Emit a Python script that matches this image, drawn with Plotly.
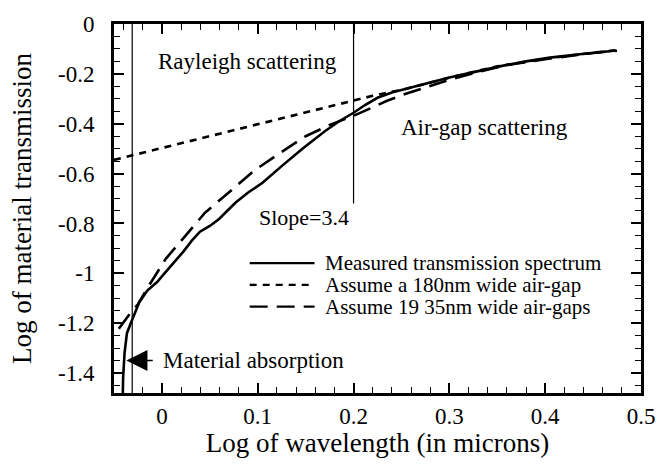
import plotly.graph_objects as go

# ---- data ----
measured_x = [-0.0412, -0.0405, -0.039, -0.0365, -0.0325, -0.028, -0.0235, -0.015, -0.005, 0.002,
              0.012, 0.0226, 0.031, 0.0397, 0.05, 0.060, 0.068, 0.077, 0.09, 0.105,
              0.125, 0.146, 0.17, 0.185, 0.2, 0.212, 0.225, 0.24, 0.255, 0.277,
              0.3, 0.329, 0.355, 0.38, 0.405, 0.431, 0.45, 0.465, 0.472]
measured_y = [-1.56, -1.42, -1.32, -1.24, -1.20, -1.16, -1.115, -1.068, -1.035, -1.003,
              -0.96, -0.912, -0.87, -0.833, -0.81, -0.781, -0.75, -0.716, -0.676, -0.637,
              -0.57, -0.502, -0.43, -0.39, -0.356, -0.325, -0.296, -0.275, -0.26, -0.238,
              -0.215, -0.19, -0.168, -0.15, -0.135, -0.123, -0.115, -0.11, -0.107]

gap180_x = [-0.05, 0.0, 0.05, 0.1, 0.15, 0.2, 0.22, 0.24, 0.255, 0.277, 0.3, 0.35, 0.4, 0.45, 0.475]
gap180_y = [-0.545, -0.497, -0.45, -0.402, -0.354, -0.305, -0.288, -0.272, -0.26, -0.238, -0.215,
            -0.17, -0.139, -0.115, -0.105]

gaps19_x = [-0.045, -0.035, -0.025, -0.013, 0.004, 0.025, 0.045, 0.073, 0.097, 0.125,
            0.15, 0.175, 0.2, 0.219, 0.235, 0.253, 0.27, 0.284, 0.3, 0.33,
            0.36, 0.4, 0.45, 0.475]
gaps19_y = [-1.222, -1.17, -1.124, -1.046, -0.942, -0.849, -0.757, -0.665, -0.586, -0.513,
            -0.45, -0.405, -0.368, -0.336, -0.308, -0.282, -0.26, -0.243, -0.224, -0.192,
            -0.165, -0.141, -0.116, -0.107]

series_names = ["Measured transmission spectrum",
                "Assume a 180nm wide air-gap",
                "Assume 19 35nm wide air-gaps"]
series_dash = ["solid", "7px,6px", "18px,9px"]

x_tickvals = [0, 0.1, 0.2, 0.3, 0.4, 0.5]
x_ticktext = ["0", "0.1", "0.2", "0.3", "0.4", "0.5"]
y_tickvals = [0, -0.2, -0.4, -0.6, -0.8, -1.0, -1.2, -1.4]
y_ticktext = ["0", "-0.2", "-0.4", "-0.6", "-0.8", "-1", "-1.2", "-1.4"]

absorption_edge = -0.031      # left boundary line
rayleigh_edge = 0.2           # Rayleigh / air-gap boundary
rayleigh_edge_bottom = -0.72

FONT = "Liberation Serif"

fig = go.Figure()
for xs, ys, name, dash in zip([measured_x, gap180_x, gaps19_x],
                              [measured_y, gap180_y, gaps19_y],
                              series_names, series_dash):
    fig.add_trace(go.Scatter(x=xs, y=ys, mode="lines", name=name, showlegend=False,
                             line=dict(color="black", width=2.6, dash=dash)))

fig.add_shape(type="line", xref="x", yref="paper", x0=absorption_edge, x1=absorption_edge,
              y0=0, y1=1, line=dict(color="black", width=1.2))
fig.add_shape(type="line", xref="x", yref="y", x0=rayleigh_edge, x1=rayleigh_edge,
              y0=rayleigh_edge_bottom, y1=0, line=dict(color="black", width=1.2))

# hand-placed key (sample line + label), in paper coordinates
key_x0, key_x1, key_text_x = 0.2575, 0.3806, 0.397
key_rows = [0.352, 0.293, 0.234]
for name, dash, ky in zip(series_names, series_dash, key_rows):
    fig.add_shape(type="line", xref="paper", yref="paper", x0=key_x0, x1=key_x1, y0=ky, y1=ky,
                  line=dict(color="black", width=2.4, dash=dash))
    fig.add_annotation(xref="paper", yref="paper", x=key_text_x, y=ky, text=name,
                       showarrow=False, xanchor="left", yanchor="middle",
                       font=dict(family=FONT, size=21, color="black"))

tf = dict(family=FONT, size=23, color="black")
fig.add_annotation(x=0.089, y=-0.15, text="Rayleigh scattering", showarrow=False, font=tf)
fig.add_annotation(x=0.337, y=-0.416, text="Air-gap scattering", showarrow=False, font=tf)
fig.add_annotation(x=0.148, y=-0.775, text="Slope=3.4", showarrow=False,
                   font=dict(family=FONT, size=22, color="black"))
fig.add_annotation(x=-0.001, y=-1.35, text="Material absorption", showarrow=False,
                   xanchor="left", font=tf)
fig.add_annotation(x=-0.037, y=-1.35, ax=-0.008, ay=-1.35, axref="x", ayref="y",
                   text="", showarrow=True, arrowhead=2, arrowsize=2.8, arrowwidth=1.5,
                   arrowcolor="black")

axis_common = dict(showline=True, linewidth=2.8, linecolor="black", mirror="ticks",
                   ticks="inside", ticklen=10, tickwidth=1.5, tickcolor="black",
                   showgrid=False, zeroline=False,
                   tickfont=dict(family=FONT, size=23, color="black"))

fig.update_xaxes(range=[-0.05, 0.5], tickvals=x_tickvals, ticktext=x_ticktext,
                 minor=dict(dtick=0.02, tick0=0, ticks="inside", ticklen=6, tickwidth=1.2,
                            tickcolor="black", showgrid=False),
                 title=dict(text="Log of wavelength (in microns)",
                            font=dict(family=FONT, size=27, color="black"), standoff=4),
                 **axis_common)
fig.update_yaxes(range=[-1.48, 0], tickvals=y_tickvals, ticktext=y_ticktext,
                 minor=dict(dtick=0.05, tick0=0, ticks="inside", ticklen=6, tickwidth=1.2,
                            tickcolor="black", showgrid=False),
                 ticklabelstandoff=12,
                 title=dict(text="Log of material transmission",
                            font=dict(family=FONT, size=27, color="black"), standoff=19),
                 **axis_common)

fig.update_layout(
    width=667, height=467,
    margin=dict(l=114, r=17, t=21, b=74),
    paper_bgcolor="white", plot_bgcolor="white",
    showlegend=False,
)

fig.write_html("out.html")
